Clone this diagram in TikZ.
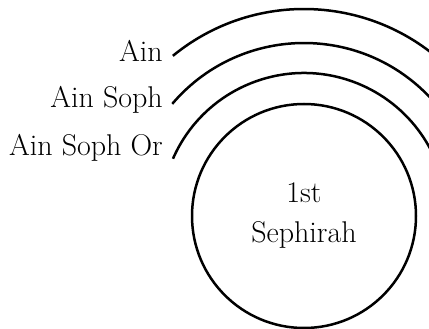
\documentclass[tikz,border=0pt]{standalone}
\usepackage{fontspec}
\usepackage{tikz}
\usetikzlibrary{positioning}
\tikzset{
  sephira/.style={circle, draw, line width=2.5pt, minimum size=224pt, inner sep=0pt, align=center, font=\fontsize{30}{40}\selectfont},
  velo/.style={line width=2.5pt},
  nombre/.style={anchor=base east, inner sep=0pt, font=\fontsize{30}{34}\selectfont},
}

\begin{document}
\begin{tikzpicture}[x=1pt, y=1pt]
          \useasboundingbox (0,0) rectangle (429,329);
          \clip (0,0) rectangle (429,329);
          \node[sephira] (kether) at (304,113) {1st\\Sephirah};
          % velos
          \draw[velo] (kether.center) ++(156.4:143) arc[start angle=156.4, end angle=0, radius=143];
          \draw[velo] (kether.center) ++(139.6:173) arc[start angle=139.6, end angle=0, radius=173];
          \draw[velo] (kether.center) ++(129.3:207) arc[start angle=129.3, end angle=0, radius=207];
          \node[nombre] (ain) at (163,267) {Ain};
          \node[nombre] (ainsoph) at (163,221) {Ain Soph};
          \node[nombre] (ainsophor) at (163,173) {Ain Soph Or};
        \end{tikzpicture}
\end{document}
